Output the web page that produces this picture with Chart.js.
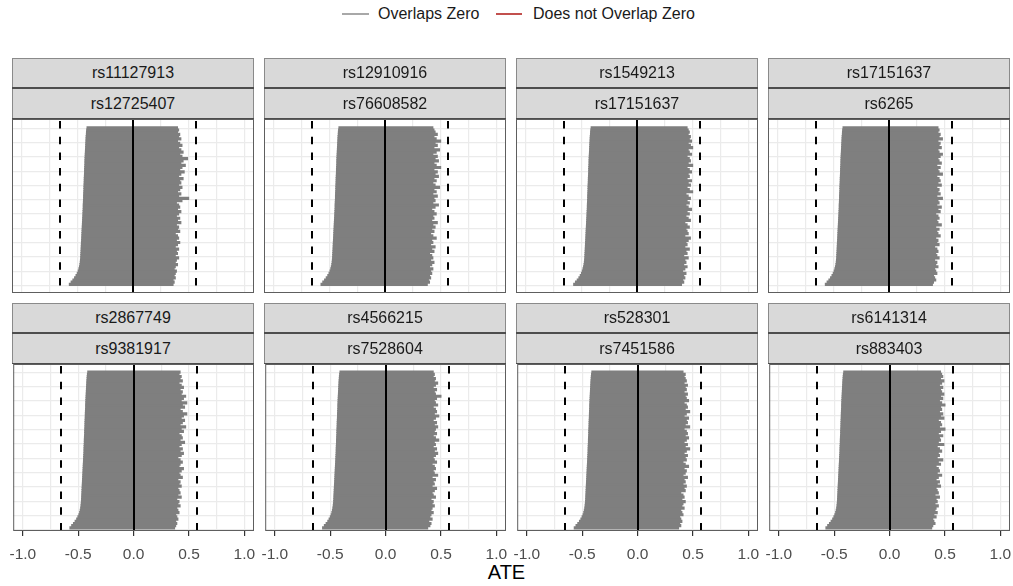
<!DOCTYPE html>
<html><head><meta charset="utf-8">
<script src="https://cdn.jsdelivr.net/npm/chart.js@4.4.1/dist/chart.umd.min.js"></script>
<style>
body{margin:0;background:#fff;width:1013px;height:586px;position:relative;overflow:hidden;font-family:"Liberation Sans",Arial,sans-serif;}
.strip{position:absolute;background:#d9d9d9;box-shadow:inset 1px 1px 0 #8a8a8a,inset -1px 0 0 #8a8a8a;}
.stxt{position:absolute;left:0;width:100%;text-align:center;font-size:16px;color:#1a1a1a;height:29px;line-height:29px;}
.sep{position:absolute;left:0;width:100%;background:#4d4d4d;}
.cv{position:absolute;}
.leg{position:absolute;font-size:16px;color:#1a1a1a;line-height:20px;top:4px;white-space:nowrap;}
.legline{position:absolute;height:2px;top:13px;}
#xtitle{position:absolute;left:0;width:1013px;text-align:center;top:560px;font-size:20px;color:#000;line-height:24px;}
</style>
</head><body>
<div class="legline" style="left:342px;width:27px;background:#a8a8a8"></div>
<div class="leg" style="left:378px">Overlaps Zero</div>
<div class="legline" style="left:496px;width:26px;background:#c2504e"></div>
<div class="leg" style="left:533px">Does not Overlap Zero</div>
<div id="xtitle">ATE</div>
<script>
// ---------- data ----------
const stripTopLabels = ['rs11127913','rs12910916','rs1549213','rs17151637','rs2867749','rs4566215','rs528301','rs6141314'];
const stripBottomLabels = ['rs12725407','rs76608582','rs17151637','rs6265','rs9381917','rs7528604','rs7451586','rs883403'];
const xTicks = [-1,-0.75,-0.5,-0.25,0,0.25,0.5,0.75,1];
const xTickLabels = ['-1.0','','-0.5','','0.0','','0.5','','1.0'];
const dashedLines = [-0.653, 0.569];
const zeroLine = [0];
const gridRows = [0,1,2,3,4,5,6,7,8,9,10];

// lower / upper bounds of the intervals, bottom row first
const lower1 = [-0.572,-0.556,-0.540,-0.525,-0.512,-0.501,-0.492,-0.486,-0.481,-0.477,-0.474,-0.472,
 -0.470,-0.469,-0.468,-0.467,-0.466,-0.465,-0.464,-0.463,-0.462,-0.461,-0.460,-0.459,
 -0.458,-0.457,-0.456,-0.455,-0.454,-0.453,-0.452,-0.451,-0.450,-0.449,-0.448,-0.447,
 -0.447,-0.446,-0.445,-0.444,-0.444,-0.443,-0.442,-0.441,-0.441,-0.440,-0.439,-0.438,
 -0.438,-0.437,-0.436,-0.435,-0.435,-0.434,-0.433,-0.432,-0.432,-0.431,-0.430,-0.429,
 -0.428,-0.427,-0.426,-0.425,-0.424,-0.423,-0.422,-0.421,-0.419,-0.418,-0.416,-0.413];
const upper1 = [0.36,0.37,0.36,0.38,0.37,0.38,0.39,0.37,0.38,0.40,
 0.38,0.39,0.41,0.38,0.40,0.39,0.41,0.38,0.40,0.42,
 0.39,0.41,0.40,0.38,0.42,0.40,0.41,0.39,0.43,0.40,
 0.42,0.39,0.41,0.43,0.40,0.42,0.41,0.39,0.44,0.50,
 0.41,0.43,0.40,0.42,0.44,0.41,0.43,0.42,0.45,0.41,
 0.43,0.46,0.42,0.44,0.47,0.43,0.45,0.49,0.44,0.42,
 0.45,0.43,0.41,0.44,0.42,0.40,0.43,0.41,0.42,0.40,
 0.41,0.40];
const lower2 = [-0.575,-0.559,-0.543,-0.528,-0.514,-0.503,-0.494,-0.487,-0.482,-0.478,-0.475,-0.473,
 -0.471,-0.470,-0.469,-0.468,-0.467,-0.466,-0.465,-0.464,-0.463,-0.462,-0.461,-0.460,
 -0.459,-0.458,-0.457,-0.456,-0.455,-0.454,-0.453,-0.452,-0.451,-0.450,-0.449,-0.448,
 -0.448,-0.447,-0.446,-0.445,-0.445,-0.444,-0.443,-0.442,-0.442,-0.441,-0.440,-0.439,
 -0.439,-0.438,-0.437,-0.436,-0.436,-0.435,-0.434,-0.433,-0.433,-0.432,-0.431,-0.430,
 -0.429,-0.428,-0.427,-0.426,-0.425,-0.424,-0.423,-0.422,-0.420,-0.419,-0.417,-0.414];
const upper2 = [0.38,0.40,0.39,0.41,0.40,0.42,0.41,0.43,0.40,0.42,
 0.44,0.41,0.43,0.42,0.40,0.44,0.42,0.45,0.41,0.43,
 0.42,0.46,0.43,0.41,0.44,0.42,0.45,0.43,0.47,0.42,
 0.44,0.43,0.46,0.44,0.42,0.45,0.48,0.43,0.45,0.44,
 0.47,0.43,0.46,0.44,0.49,0.45,0.43,0.46,0.44,0.48,
 0.45,0.47,0.44,0.50,0.46,0.44,0.48,0.45,0.47,0.43,
 0.46,0.49,0.44,0.47,0.45,0.50,0.46,0.44,0.47,0.45,
 0.44,0.43];
const lower3 = [-0.569,-0.553,-0.537,-0.522,-0.510,-0.499,-0.491,-0.485,-0.480,-0.476,-0.473,-0.471,
 -0.469,-0.468,-0.467,-0.466,-0.465,-0.464,-0.463,-0.462,-0.461,-0.460,-0.459,-0.458,
 -0.457,-0.456,-0.455,-0.454,-0.453,-0.452,-0.451,-0.450,-0.449,-0.448,-0.447,-0.446,
 -0.446,-0.445,-0.444,-0.443,-0.443,-0.442,-0.441,-0.440,-0.440,-0.439,-0.438,-0.437,
 -0.437,-0.436,-0.435,-0.434,-0.434,-0.433,-0.432,-0.431,-0.431,-0.430,-0.429,-0.428,
 -0.427,-0.426,-0.425,-0.424,-0.423,-0.422,-0.421,-0.420,-0.418,-0.417,-0.415,-0.412];
const upper3 = [0.40,0.42,0.41,0.43,0.42,0.44,0.41,0.43,0.45,0.42,
 0.44,0.43,0.46,0.42,0.45,0.44,0.47,0.43,0.45,0.44,
 0.46,0.48,0.43,0.46,0.45,0.44,0.47,0.45,0.43,0.48,
 0.46,0.44,0.47,0.45,0.49,0.46,0.44,0.47,0.45,0.48,
 0.46,0.44,0.50,0.47,0.45,0.48,0.46,0.49,0.45,0.47,
 0.46,0.49,0.47,0.45,0.50,0.46,0.48,0.47,0.45,0.49,
 0.47,0.46,0.50,0.48,0.46,0.49,0.47,0.48,0.46,0.47,
 0.46,0.45];
const lower4 = [-0.572,-0.556,-0.540,-0.525,-0.512,-0.501,-0.492,-0.486,-0.481,-0.477,-0.474,-0.472,
 -0.470,-0.469,-0.468,-0.467,-0.466,-0.465,-0.464,-0.463,-0.462,-0.461,-0.460,-0.459,
 -0.458,-0.457,-0.456,-0.455,-0.454,-0.453,-0.452,-0.451,-0.450,-0.449,-0.448,-0.447,
 -0.447,-0.446,-0.445,-0.444,-0.444,-0.443,-0.442,-0.441,-0.441,-0.440,-0.439,-0.438,
 -0.438,-0.437,-0.436,-0.435,-0.435,-0.434,-0.433,-0.432,-0.432,-0.431,-0.430,-0.429,
 -0.428,-0.427,-0.426,-0.425,-0.424,-0.423,-0.422,-0.421,-0.419,-0.418,-0.416,-0.413];
const upper4 = [0.39,0.40,0.42,0.41,0.40,0.43,0.42,0.41,0.44,0.42,
 0.43,0.41,0.45,0.43,0.42,0.44,0.43,0.41,0.45,0.43,
 0.44,0.42,0.46,0.44,0.43,0.45,0.42,0.47,0.44,0.43,
 0.45,0.44,0.42,0.46,0.44,0.47,0.43,0.45,0.44,0.48,
 0.43,0.46,0.44,0.45,0.43,0.47,0.44,0.46,0.45,0.43,
 0.48,0.45,0.44,0.46,0.43,0.47,0.45,0.44,0.46,0.48,
 0.45,0.44,0.47,0.45,0.46,0.44,0.48,0.45,0.46,0.44,
 0.45,0.44];
const lower5 = [-0.575,-0.559,-0.543,-0.528,-0.514,-0.503,-0.494,-0.487,-0.482,-0.478,-0.475,-0.473,
 -0.471,-0.470,-0.469,-0.468,-0.467,-0.466,-0.465,-0.464,-0.463,-0.462,-0.461,-0.460,
 -0.459,-0.458,-0.457,-0.456,-0.455,-0.454,-0.453,-0.452,-0.451,-0.450,-0.449,-0.448,
 -0.448,-0.447,-0.446,-0.445,-0.445,-0.444,-0.443,-0.442,-0.442,-0.441,-0.440,-0.439,
 -0.439,-0.438,-0.437,-0.436,-0.436,-0.435,-0.434,-0.433,-0.433,-0.432,-0.431,-0.430,
 -0.429,-0.428,-0.427,-0.426,-0.425,-0.424,-0.423,-0.422,-0.420,-0.419,-0.417,-0.414];
const upper5 = [0.37,0.38,0.39,0.38,0.40,0.39,0.38,0.41,0.40,0.39,
 0.42,0.40,0.41,0.39,0.43,0.40,0.42,0.41,0.40,0.43,
 0.41,0.42,0.40,0.44,0.42,0.41,0.43,0.45,0.41,0.42,
 0.44,0.42,0.40,0.43,0.45,0.42,0.44,0.41,0.43,0.46,
 0.42,0.44,0.43,0.41,0.45,0.43,0.47,0.42,0.44,0.46,
 0.43,0.45,0.48,0.44,0.42,0.46,0.44,0.48,0.43,0.45,
 0.47,0.43,0.44,0.42,0.45,0.43,0.41,0.44,0.42,0.43,
 0.41,0.42];
const lower6 = [-0.569,-0.553,-0.537,-0.522,-0.510,-0.499,-0.491,-0.485,-0.480,-0.476,-0.473,-0.471,
 -0.469,-0.468,-0.467,-0.466,-0.465,-0.464,-0.463,-0.462,-0.461,-0.460,-0.459,-0.458,
 -0.457,-0.456,-0.455,-0.454,-0.453,-0.452,-0.451,-0.450,-0.449,-0.448,-0.447,-0.446,
 -0.446,-0.445,-0.444,-0.443,-0.443,-0.442,-0.441,-0.440,-0.440,-0.439,-0.438,-0.437,
 -0.437,-0.436,-0.435,-0.434,-0.434,-0.433,-0.432,-0.431,-0.431,-0.430,-0.429,-0.428,
 -0.427,-0.426,-0.425,-0.424,-0.423,-0.422,-0.421,-0.420,-0.418,-0.417,-0.415,-0.412];
const upper6 = [0.38,0.40,0.41,0.39,0.42,0.40,0.41,0.43,0.41,0.42,
 0.44,0.42,0.43,0.41,0.45,0.43,0.42,0.44,0.46,0.42,
 0.44,0.43,0.45,0.42,0.47,0.44,0.43,0.45,0.44,0.42,
 0.46,0.44,0.43,0.45,0.47,0.44,0.46,0.43,0.45,0.44,
 0.48,0.45,0.43,0.46,0.44,0.45,0.47,0.44,0.46,0.43,
 0.45,0.48,0.44,0.46,0.45,0.43,0.47,0.45,0.44,0.46,
 0.50,0.45,0.44,0.46,0.43,0.45,0.47,0.44,0.45,0.43,
 0.44,0.43];
const lower7 = [-0.572,-0.556,-0.540,-0.525,-0.512,-0.501,-0.492,-0.486,-0.481,-0.477,-0.474,-0.472,
 -0.470,-0.469,-0.468,-0.467,-0.466,-0.465,-0.464,-0.463,-0.462,-0.461,-0.460,-0.459,
 -0.458,-0.457,-0.456,-0.455,-0.454,-0.453,-0.452,-0.451,-0.450,-0.449,-0.448,-0.447,
 -0.447,-0.446,-0.445,-0.444,-0.444,-0.443,-0.442,-0.441,-0.441,-0.440,-0.439,-0.438,
 -0.438,-0.437,-0.436,-0.435,-0.435,-0.434,-0.433,-0.432,-0.432,-0.431,-0.430,-0.429,
 -0.428,-0.427,-0.426,-0.425,-0.424,-0.423,-0.422,-0.421,-0.419,-0.418,-0.416,-0.413];
const upper7 = [0.37,0.39,0.38,0.40,0.39,0.38,0.41,0.40,0.39,0.42,
 0.40,0.41,0.43,0.40,0.42,0.41,0.39,0.43,0.42,0.44,
 0.41,0.43,0.42,0.45,0.41,0.43,0.44,0.42,0.46,0.43,
 0.41,0.44,0.43,0.45,0.42,0.44,0.47,0.43,0.45,0.42,
 0.44,0.46,0.43,0.45,0.44,0.42,0.47,0.43,0.45,0.44,
 0.46,0.42,0.44,0.47,0.43,0.45,0.44,0.42,0.46,0.44,
 0.43,0.45,0.42,0.44,0.43,0.45,0.42,0.44,0.43,0.42,
 0.43,0.41];
const lower8 = [-0.575,-0.559,-0.543,-0.528,-0.514,-0.503,-0.494,-0.487,-0.482,-0.478,-0.475,-0.473,
 -0.471,-0.470,-0.469,-0.468,-0.467,-0.466,-0.465,-0.464,-0.463,-0.462,-0.461,-0.460,
 -0.459,-0.458,-0.457,-0.456,-0.455,-0.454,-0.453,-0.452,-0.451,-0.450,-0.449,-0.448,
 -0.448,-0.447,-0.446,-0.445,-0.445,-0.444,-0.443,-0.442,-0.442,-0.441,-0.440,-0.439,
 -0.439,-0.438,-0.437,-0.436,-0.436,-0.435,-0.434,-0.433,-0.433,-0.432,-0.431,-0.430,
 -0.429,-0.428,-0.427,-0.426,-0.425,-0.424,-0.423,-0.422,-0.420,-0.419,-0.417,-0.414];
const upper8 = [0.38,0.39,0.41,0.40,0.39,0.42,0.40,0.43,0.41,0.42,
 0.44,0.41,0.43,0.42,0.45,0.41,0.44,0.43,0.42,0.46,
 0.43,0.45,0.42,0.44,0.47,0.43,0.45,0.44,0.42,0.46,
 0.44,0.48,0.43,0.45,0.44,0.47,0.45,0.43,0.49,0.44,
 0.46,0.45,0.48,0.44,0.46,0.50,0.45,0.47,0.46,0.44,
 0.49,0.46,0.48,0.45,0.47,0.46,0.50,0.47,0.45,0.48,
 0.46,0.49,0.47,0.46,0.48,0.45,0.47,0.49,0.46,0.48,
 0.47,0.46];

const lowers = [lower1,lower2,lower3,lower4,lower5,lower6,lower7,lower8];
const uppers = [upper1,upper2,upper3,upper4,upper5,upper6,upper7,upper8];

// ---------- layout ----------
const colLeft = [12,264,516,768];
const panelW = 242;
const sidePad = 12;
const rowsGeo = [
  {stripTop:58, chartTop:119, chartBottom:293, barTop:126.7, barBottom:285.5, grid0:285.7},
  {stripTop:303, chartTop:364, chartBottom:531, barTop:371, barBottom:529, grid0:530.2}
];
const gridStepPx = 15.74;
const xHalf = 1.087;
const axisH = 44;

const overlay = {
  id:'overlay',
  afterDatasetsDraw(chart){
    const {ctx, chartArea:a} = chart;
    const x = chart.scales.x;
    ctx.save();
    ctx.beginPath(); ctx.rect(a.left,a.top,a.width,a.height); ctx.clip();
    ctx.strokeStyle = '#000';
    ctx.lineWidth = 2;
    ctx.setLineDash([7.5,8.2]);
    dashedLines.forEach(v=>{
      const px = Math.round(x.getPixelForValue(v));
      ctx.beginPath(); ctx.moveTo(px, a.top+2); ctx.lineTo(px, a.bottom); ctx.stroke();
    });
    ctx.setLineDash([]);
    zeroLine.forEach(v=>{
      const px = Math.round(x.getPixelForValue(v));
      ctx.beginPath(); ctx.moveTo(px, a.top); ctx.lineTo(px, a.bottom); ctx.stroke();
    });
    ctx.restore();
    ctx.save();
    ctx.strokeStyle = '#5e5e5e';
    ctx.lineWidth = 1;
    ctx.strokeRect(a.left+0.5, a.top+0.5, a.width-1, a.height-1);
    ctx.restore();
  }
};

function makeStrip(left, top, t1, t2){
  const s = document.createElement('div');
  s.className='strip';
  s.style.left=left+'px'; s.style.top=top+'px'; s.style.width=panelW+'px'; s.style.height='61px';
  const a=document.createElement('div'); a.className='stxt'; a.style.top='0px'; a.textContent=t1;
  const sep=document.createElement('div'); sep.className='sep'; sep.style.top='29px'; sep.style.height='2px';
  const b=document.createElement('div'); b.className='stxt'; b.style.top='31px'; b.textContent=t2;
  const bot=document.createElement('div'); bot.className='sep'; bot.style.top='60px'; bot.style.height='1px';
  s.appendChild(a); s.appendChild(sep); s.appendChild(b); s.appendChild(bot);
  document.body.appendChild(s);
}

for (let p=0;p<8;p++){
  const r = Math.floor(p/4), c = p%4;
  const g = rowsGeo[r];
  const bottomRow = r===1;
  makeStrip(colLeft[c], g.stripTop, stripTopLabels[p], stripBottomLabels[p]);
  const H = g.chartBottom - g.chartTop;
  const cvH = H + (bottomRow ? axisH : 0);
  const cv = document.createElement('canvas');
  cv.className='cv';
  cv.width = panelW + 2*sidePad; cv.height = cvH;
  cv.style.left = (colLeft[c]-sidePad)+'px'; cv.style.top = g.chartTop+'px';
  cv.style.width = cv.width+'px'; cv.style.height = cvH+'px';
  document.body.appendChild(cv);

  const lo = lowers[p], hi = uppers[p];
  const N = lo.length;
  const pxRow = (g.barBottom - g.barTop)/N;
  const yMin = -0.5 - (g.chartBottom - g.barBottom)/pxRow;
  const yMax = (N-0.5) + (g.barTop - g.chartTop)/pxRow;
  const gMin = -(g.chartBottom - g.grid0)/gridStepPx;
  const gMax = gMin + H/gridStepPx;

  new Chart(cv, {
    type:'bar',
    data:{
      datasets:[{
        label:'Overlaps Zero',
        data: lo.map((v,i)=>({x:[v, hi[i]], y:i})),
        backgroundColor:'#7f7f7f',
        borderWidth:0,
        inflateAmount:0.5,
        barPercentage:1,
        categoryPercentage:1
      }]
    },
    options:{
      indexAxis:'y',
      responsive:false,
      animation:false,
      devicePixelRatio:1,
      layout:{autoPadding:false, padding:{left:sidePad,right:sidePad,top:0,bottom:0}},
      plugins:{legend:{display:false}, tooltip:{enabled:false}},
      scales:{
        x:{
          type:'linear', min:-xHalf, max:xHalf, position:'bottom',
          afterBuildTicks:s=>{ s.ticks = xTicks.map(v=>({value:v})); },
          afterFit:s=>{ s.height = bottomRow ? axisH : 0; },
          grid:{color:'#ebebeb', lineWidth:1.2, drawTicks:bottomRow, tickLength:5,
                tickColor:ctx=> (ctx.tick && xTickLabels[xTicks.indexOf(ctx.tick.value)]) ? '#333333' : 'rgba(0,0,0,0)', tickWidth:1.2},
          border:{display:false},
          ticks:{display:bottomRow, autoSkip:false, maxRotation:0, padding:9, color:'#4d4d4d',
                 font:{family:'"Liberation Sans", Arial, sans-serif', size:15.5},
                 callback:(v)=>{ const k = xTicks.indexOf(v); return k>=0 ? xTickLabels[k] : ''; }}
        },
        y:{
          type:'linear', min:yMin, max:yMax, display:false, offset:false, grid:{offset:false}
        },
        yg:{
          type:'linear', min:gMin, max:gMax, position:'left', display:true,
          afterBuildTicks:s=>{ s.ticks = gridRows.map(v=>({value:v})); },
          afterFit:s=>{ s.width = 0; },
          grid:{color:'#ebebeb', lineWidth:1.2, drawTicks:false},
          border:{display:false},
          ticks:{display:false}
        }
      }
    },
    plugins:[overlay]
  });
}
</script>
</body></html>
